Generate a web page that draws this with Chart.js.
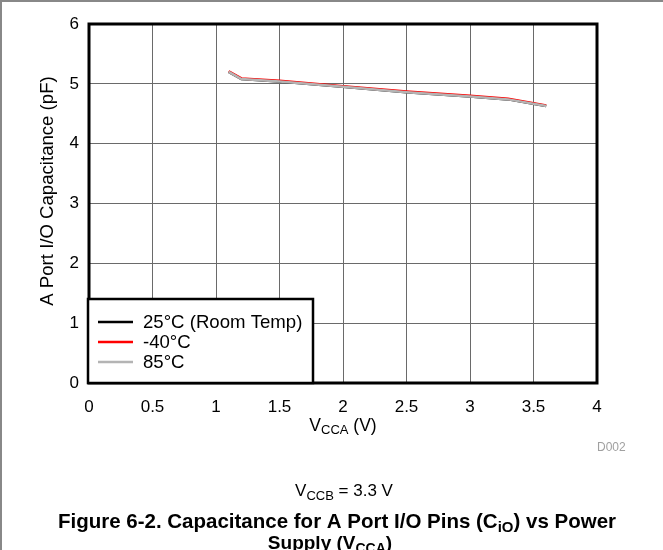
<!DOCTYPE html>
<html><head><meta charset="utf-8">
<script src="https://cdn.jsdelivr.net/npm/chart.js@4"></script>
<style>html,body{margin:0;padding:0;background:#fff;}#wrap{width:663px;height:550px;position:relative;}</style>
</head><body><div id="wrap"><canvas id="c" width="663" height="550"></canvas></div>
<script>
const vcca = [1.1, 1.2, 1.5, 2.0, 2.5, 3.0, 3.3, 3.6];
const cap25 = [5.2, 5.08, 5.04, 4.95, 4.86, 4.79, 4.74, 4.63];
const capM40 = [5.21, 5.09, 5.05, 4.96, 4.87, 4.80, 4.75, 4.64];
const cap85 = [5.2, 5.08, 5.04, 4.95, 4.86, 4.79, 4.74, 4.63];
const seriesNames = ['25°C (Room Temp)', '-40°C', '85°C'];
const seriesColors = ['#000000', '#ff0000', '#b4b4b4'];
const xTicks = [0, 0.5, 1, 1.5, 2, 2.5, 3, 3.5, 4];
const yTicks = [0, 1, 2, 3, 4, 5, 6];

const FONT = '"Liberation Sans", Arial, sans-serif';
const pts = ys => vcca.map((x, i) => ({x, y: ys[i]}));

function drawParts(ctx, parts, cx, y, align) {
  let w = 0;
  parts.forEach(p => { ctx.font = p.font; w += ctx.measureText(p.t).width; });
  let x = align === 'left' ? cx : cx - w / 2;
  parts.forEach(p => {
    ctx.font = p.font;
    ctx.fillText(p.t, x, y + (p.dy || 0));
    x += ctx.measureText(p.t).width;
  });
}

const extras = {
  id: 'extras',
  afterDraw(chart) {
    const ctx = chart.ctx;
    const a = chart.chartArea;
    ctx.save();
    // plot frame
    ctx.strokeStyle = '#000'; ctx.lineWidth = 3;
    ctx.strokeRect(a.left, a.top, a.right - a.left, a.bottom - a.top);
    // legend box
    const lx = 88, ly = 299, lw = 225, lh = a.bottom - ly;
    ctx.fillStyle = '#fff';
    ctx.fillRect(lx, ly, lw, lh);
    ctx.strokeStyle = '#000'; ctx.lineWidth = 2.5;
    ctx.strokeRect(lx, ly, lw, lh);
    ctx.textBaseline = 'middle'; ctx.textAlign = 'left';
    ctx.font = '18.6px ' + FONT;
    seriesNames.forEach((n, i) => {
      const yy = 322 + i * 20;
      ctx.strokeStyle = seriesColors[i]; ctx.lineWidth = 2.5;
      ctx.beginPath(); ctx.moveTo(98, yy); ctx.lineTo(133, yy); ctx.stroke();
      ctx.fillStyle = '#000';
      ctx.fillText(n, 143, yy + 1);
    });
    // page frame
    ctx.strokeStyle = '#888'; ctx.lineWidth = 2;
    ctx.beginPath(); ctx.moveTo(1, 550); ctx.lineTo(1, 1); ctx.lineTo(663, 1); ctx.stroke();
    // x title
    ctx.fillStyle = '#000'; ctx.textBaseline = 'alphabetic';
    const cx = (a.left + a.right) / 2;
    drawParts(ctx, [
      {t: 'V', font: '17.5px ' + FONT},
      {t: 'CCA', font: '13px ' + FONT, dy: 3},
      {t: ' (V)', font: '17.5px ' + FONT}
    ], cx, 431);
    // D002
    ctx.fillStyle = '#a0a0a0'; ctx.font = '12px ' + FONT;
    ctx.textAlign = 'left';
    ctx.fillText('D002', 597, 451);
    // VCCB
    ctx.fillStyle = '#000';
    drawParts(ctx, [
      {t: 'V', font: '17px ' + FONT},
      {t: 'CCB', font: '13px ' + FONT, dy: 4},
      {t: ' = 3.3 V', font: '17px ' + FONT}
    ], cx + 1, 496);
    // caption
    const B = 'bold 20.5px ' + FONT, BS = 'bold 15px ' + FONT;
    drawParts(ctx, [
      {t: 'Figure 6-2. Capacitance for A Port I/O Pins (C', font: B},
      {t: 'iO', font: BS, dy: 4},
      {t: ') vs Power', font: B}
    ], 337, 528);
    const B2 = 'bold 19px ' + FONT, BS2 = 'bold 14px ' + FONT;
    drawParts(ctx, [
      {t: 'Supply (V', font: B2},
      {t: 'CCA', font: BS2, dy: 4},
      {t: ')', font: B2}
    ], 330, 549);
    // y title
    ctx.save();
    ctx.translate(48, 191);
    ctx.rotate(-Math.PI / 2);
    ctx.textAlign = 'center'; ctx.textBaseline = 'middle';
    ctx.font = '18.6px ' + FONT; ctx.fillStyle = '#000';
    ctx.fillText('A Port I/O Capacitance (pF)', 0, 0);
    ctx.restore();
    ctx.restore();
  }
};

new Chart(document.getElementById('c'), {
  type: 'scatter',
  data: {
    datasets: [
      {label: seriesNames[0], data: pts(cap25), borderColor: seriesColors[0], backgroundColor: seriesColors[0], order: 3},
      {label: seriesNames[1], data: pts(capM40), borderColor: seriesColors[1], backgroundColor: seriesColors[1], order: 2},
      {label: seriesNames[2], data: pts(cap85), borderColor: seriesColors[2], backgroundColor: seriesColors[2], order: 1}
    ].map(d => Object.assign(d, {showLine: true, pointRadius: 0, borderWidth: 2.5, tension: 0}))
  },
  options: {
    responsive: false, animation: false,
    layout: {padding: {left: 0, top: 24, right: 66, bottom: 0}},
    plugins: {legend: {display: false}, tooltip: {enabled: false}},
    scales: {
      x: {
        type: 'linear', min: 0, max: 4,
        afterBuildTicks: s => { s.ticks = xTicks.map(v => ({value: v})); },
        afterFit: s => { s.height = 167; },
        grid: {color: '#6a6a6a', lineWidth: 1, drawTicks: false},
        border: {display: false},
        ticks: {color: '#000', font: {family: FONT, size: 17}, padding: 14, maxRotation: 0,
                callback: v => String(v)}
      },
      y: {
        type: 'linear', min: 0, max: 6,
        afterBuildTicks: s => { s.ticks = yTicks.map(v => ({value: v})); },
        afterFit: s => { s.width = 89; },
        grid: {color: '#6a6a6a', lineWidth: 1, drawTicks: false},
        border: {display: false},
        ticks: {color: '#000', font: {family: FONT, size: 17}, padding: 10,
                callback: v => String(v)}
      }
    }
  },
  plugins: [extras]
});
</script></body></html>
